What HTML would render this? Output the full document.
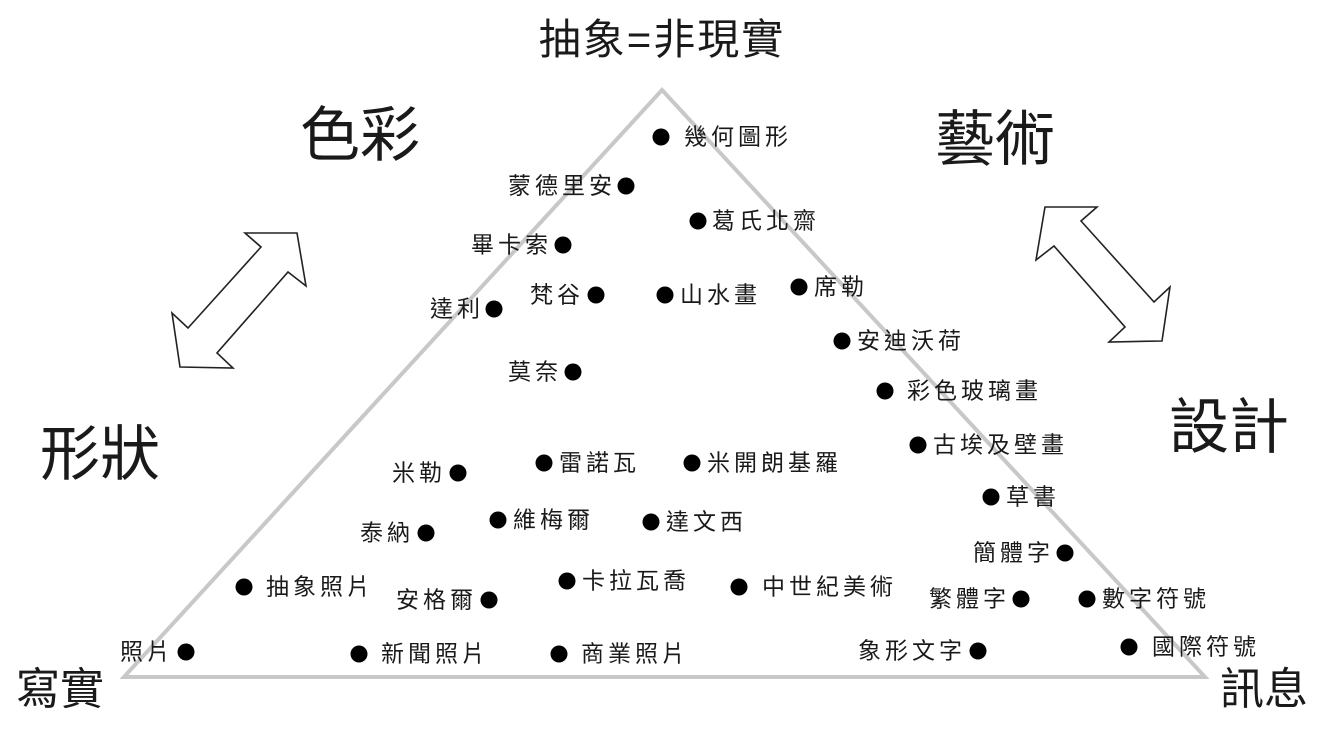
<!DOCTYPE html>
<html><head><meta charset="utf-8"><style>
html,body{margin:0;padding:0;background:#fff;}
body{width:1334px;height:734px;position:relative;overflow:hidden;font-family:"Liberation Sans","Noto Sans CJK TC",sans-serif;color:#1a1a1a;}
.d{position:absolute;width:17px;height:17px;border-radius:50%;background:#000;transform:translate(-50%,-50%);}
.t{position:absolute;font-size:23px;line-height:23px;white-space:nowrap;transform:translateY(-50%);letter-spacing:4px;}
.r{transform:translate(-100%,-50%);letter-spacing:4px;margin-left:4px;}
.b{position:absolute;white-space:nowrap;transform:translate(-50%,-50%);line-height:1;}
</style></head><body>
<svg width="1334" height="734" style="position:absolute;left:0;top:0">
<polygon points="662,90 124,677 1205,677" fill="none" stroke="#c8c8c8" stroke-width="4" stroke-linejoin="miter"/>
<g fill="#fff" stroke="#222" stroke-width="1.6" stroke-linejoin="miter">
<polygon points="245,233 297,233 306,286 288,272 217,353 233,368 180,367 172,313 188,328 261,247"/>
<polygon transform="translate(1342,-26) scale(-1,1)" points="245,233 297,233 306,286 288,272 217,353 233,368 180,367 172,313 188,328 261,247"/>
</g>
</svg>
<div class="b" style="left:662px;top:40px;font-size:42px;letter-spacing:2px">抽象=非現實</div>
<div class="b" style="left:360px;top:136px;font-size:60px">色彩</div>
<div class="b" style="left:995px;top:140px;font-size:60px">藝術</div>
<div class="b" style="left:100px;top:455px;font-size:60px">形狀</div>
<div class="b" style="left:1229px;top:428px;font-size:60px">設計</div>
<div class="b" style="left:60px;top:690px;font-size:44px">寫實</div>
<div class="b" style="left:1264px;top:690px;font-size:44px">訊息</div>

<div class="d" style="left:661px;top:137px"></div><div class="t" style="left:684px;top:137px">幾何圖形</div>
<div class="d" style="left:626px;top:186px"></div><div class="t r" style="left:612px;top:186px">蒙德里安</div>
<div class="d" style="left:698px;top:221px"></div><div class="t" style="left:712px;top:221px">葛氏北齋</div>
<div class="d" style="left:563px;top:245px"></div><div class="t r" style="left:548px;top:245px">畢卡索</div>
<div class="d" style="left:494px;top:309px"></div><div class="t r" style="left:480px;top:309px">達利</div>
<div class="d" style="left:596px;top:295px"></div><div class="t r" style="left:580px;top:295px">梵谷</div>
<div class="d" style="left:665px;top:295px"></div><div class="t" style="left:680px;top:295px">山水畫</div>
<div class="d" style="left:799px;top:287px"></div><div class="t" style="left:814px;top:287px">席勒</div>
<div class="d" style="left:842px;top:341px"></div><div class="t" style="left:857px;top:341px">安迪沃荷</div>
<div class="d" style="left:573px;top:372px"></div><div class="t r" style="left:558px;top:372px">莫奈</div>
<div class="d" style="left:885px;top:391px"></div><div class="t" style="left:907px;top:391px">彩色玻璃畫</div>
<div class="d" style="left:918px;top:445px"></div><div class="t" style="left:933px;top:445px">古埃及壁畫</div>
<div class="d" style="left:458px;top:473px"></div><div class="t r" style="left:442px;top:473px">米勒</div>
<div class="d" style="left:544px;top:463px"></div><div class="t" style="left:559px;top:463px">雷諾瓦</div>
<div class="d" style="left:692px;top:463px"></div><div class="t" style="left:707px;top:463px">米開朗基羅</div>
<div class="d" style="left:991px;top:497px"></div><div class="t" style="left:1006px;top:497px">草書</div>
<div class="d" style="left:426px;top:533px"></div><div class="t r" style="left:410px;top:533px">泰納</div>
<div class="d" style="left:498px;top:520px"></div><div class="t" style="left:513px;top:520px">維梅爾</div>
<div class="d" style="left:651px;top:522px"></div><div class="t" style="left:666px;top:522px">達文西</div>
<div class="d" style="left:1065px;top:553px"></div><div class="t r" style="left:1050px;top:553px">簡體字</div>
<div class="d" style="left:244px;top:587px"></div><div class="t" style="left:266px;top:587px">抽象照片</div>
<div class="d" style="left:489px;top:600px"></div><div class="t r" style="left:473px;top:600px">安格爾</div>
<div class="d" style="left:567px;top:581px"></div><div class="t" style="left:582px;top:581px">卡拉瓦喬</div>
<div class="d" style="left:739px;top:587px"></div><div class="t" style="left:762px;top:587px">中世紀美術</div>
<div class="d" style="left:1021px;top:599px"></div><div class="t r" style="left:1006px;top:599px">繁體字</div>
<div class="d" style="left:1087px;top:599px"></div><div class="t" style="left:1102px;top:599px">數字符號</div>
<div class="d" style="left:186px;top:652px"></div><div class="t r" style="left:170px;top:652px">照片</div>
<div class="d" style="left:359px;top:654px"></div><div class="t" style="left:381px;top:654px">新聞照片</div>
<div class="d" style="left:559px;top:654px"></div><div class="t" style="left:581px;top:654px">商業照片</div>
<div class="d" style="left:978px;top:651px"></div><div class="t r" style="left:962px;top:651px">象形文字</div>
<div class="d" style="left:1129px;top:647px"></div><div class="t" style="left:1152px;top:647px">國際符號</div>
</body></html>
